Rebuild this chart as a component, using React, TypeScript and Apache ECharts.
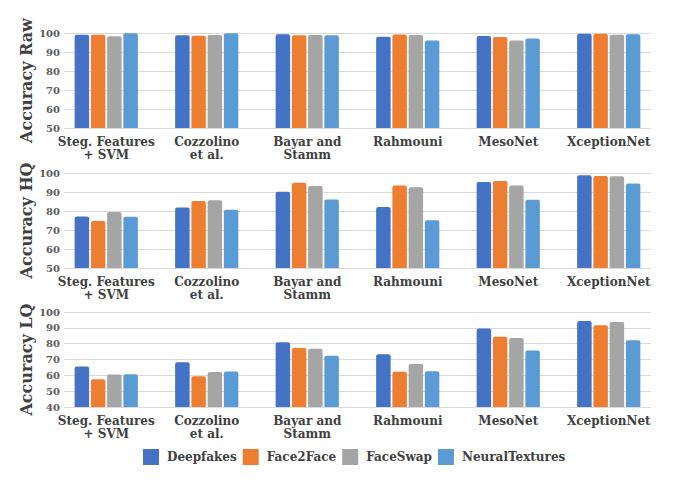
import React, { useEffect, useRef } from "react";
import * as echarts from "echarts";

const categories = [
  "Steg. Features\n+ SVM",
  "Cozzolino\net al.",
  "Bayar and\nStamm",
  "Rahmouni",
  "MesoNet",
  "XceptionNet",
];
const seriesNames = ["Deepfakes", "Face2Face", "FaceSwap", "NeuralTextures"];
const colors = ["#4472C4", "#ED7D31", "#A5A5A5", "#5B9BD5"];

// values per panel, per series (order = seriesNames), per category
const rawDeepfakes = [99.03, 98.83, 99.28, 98.03, 98.41, 99.59];
const rawFace2Face = [99.13, 98.56, 98.79, 99.22, 97.96, 99.61];
const rawFaceSwap = [98.27, 98.89, 98.98, 98.94, 96.07, 99.14];
const rawNeural = [99.88, 99.88, 98.78, 96.06, 97.05, 99.36];

const hqDeepfakes = [77.12, 81.78, 90.18, 82.16, 95.26, 98.85];
const hqFace2Face = [74.68, 85.32, 94.93, 93.48, 95.84, 98.36];
const hqFaceSwap = [79.51, 85.69, 93.14, 92.51, 93.43, 98.23];
const hqNeural = [76.94, 80.6, 86.04, 75.18, 85.96, 94.5];

const lqDeepfakes = [65.58, 68.26, 80.95, 73.25, 89.52, 94.28];
const lqFace2Face = [57.55, 59.38, 77.3, 62.33, 84.44, 91.56];
const lqFaceSwap = [60.58, 62.08, 76.83, 67.08, 83.56, 93.7];
const lqNeural = [60.69, 62.42, 72.38, 62.59, 75.74, 82.11];

const panelNames = ["Accuracy Raw", "Accuracy HQ", "Accuracy LQ"];
const panelMins = [50, 50, 40];
const panelMax = 100;
const panelData = [
  [rawDeepfakes, rawFace2Face, rawFaceSwap, rawNeural],
  [hqDeepfakes, hqFace2Face, hqFaceSwap, hqNeural],
  [lqDeepfakes, lqFace2Face, lqFaceSwap, lqNeural],
];

const panelTops = [33, 173, 312];
const panelHeight = 95;
const FONT = "DejaVu Serif";

export default function App() {
  const ref = useRef<HTMLDivElement>(null);
  useEffect(() => {
    if (!ref.current) return;
    const chart = echarts.init(ref.current, null, { renderer: "svg" });
    const grid: any[] = [];
    const xAxis: any[] = [];
    const yAxis: any[] = [];
    const series: any[] = [];
    panelData.forEach((pd, p) => {
      const top = panelTops[p];
      grid.push({ left: 64, right: 30, top, height: panelHeight });
      grid.push({ left: 56, right: 22, top, height: panelHeight });
      xAxis.push({
        type: "category",
        gridIndex: 2 * p,
        data: categories,
        show: false,
      });
      xAxis.push({
        type: "category",
        gridIndex: 2 * p + 1,
        data: categories,
        axisLine: { show: false },
        axisTick: { show: false },
        axisLabel: {
          interval: 0,
          margin: 7,
          color: "#404040",
          fontFamily: FONT,
          fontWeight: "bold",
          fontSize: 12,
          lineHeight: 13,
        },
      });
      yAxis.push({
        type: "value",
        gridIndex: 2 * p,
        min: panelMins[p],
        max: panelMax,
        interval: 10,
        name: panelNames[p],
        nameLocation: "middle",
        nameGap: 30,
        nameMoveOverlap: false,
        nameTextStyle: {
          color: "#404040",
          fontFamily: FONT,
          fontWeight: "bold",
          fontSize: 16,
        },
        axisLine: { show: false },
        axisTick: { show: false },
        axisLabel: {
          margin: 4,
          color: "#595959",
          fontFamily: FONT,
          fontWeight: "bold",
          fontSize: 10,
        },
        splitLine: { show: true, lineStyle: { color: "#D9D9D9", width: 1 } },
      });
      yAxis.push({
        type: "value",
        gridIndex: 2 * p + 1,
        min: panelMins[p],
        max: panelMax,
        interval: 10,
        show: false,
        splitLine: { show: false },
      });
      pd.forEach((vals, s) => {
        series.push({
          type: "bar",
          name: seriesNames[s],
          xAxisIndex: 2 * p + 1,
          yAxisIndex: 2 * p + 1,
          data: vals,
          barWidth: 14.5,
          barGap: "12%",
          itemStyle: { color: colors[s], borderRadius: [2, 2, 0, 0] },
        });
      });
    });
    chart.setOption({
      animation: false,
      backgroundColor: "#ffffff",
      color: colors,
      grid,
      xAxis,
      yAxis,
      series,
      legend: {
        data: seriesNames,
        left: 138,
        top: 444,
        itemWidth: 16,
        itemHeight: 16,
        itemGap: 6,
        icon: "rect",
        textStyle: {
          color: "#404040",
          fontFamily: FONT,
          fontWeight: "bold",
          fontSize: 12,
          padding: [0, 0, 0, 3],
        },
      },
    });
    return () => chart.dispose();
  }, []);
  return (
    <div
      ref={ref}
      style={{ position: "fixed", left: 0, top: 0, width: 681, height: 482 }}
    />
  );
}
